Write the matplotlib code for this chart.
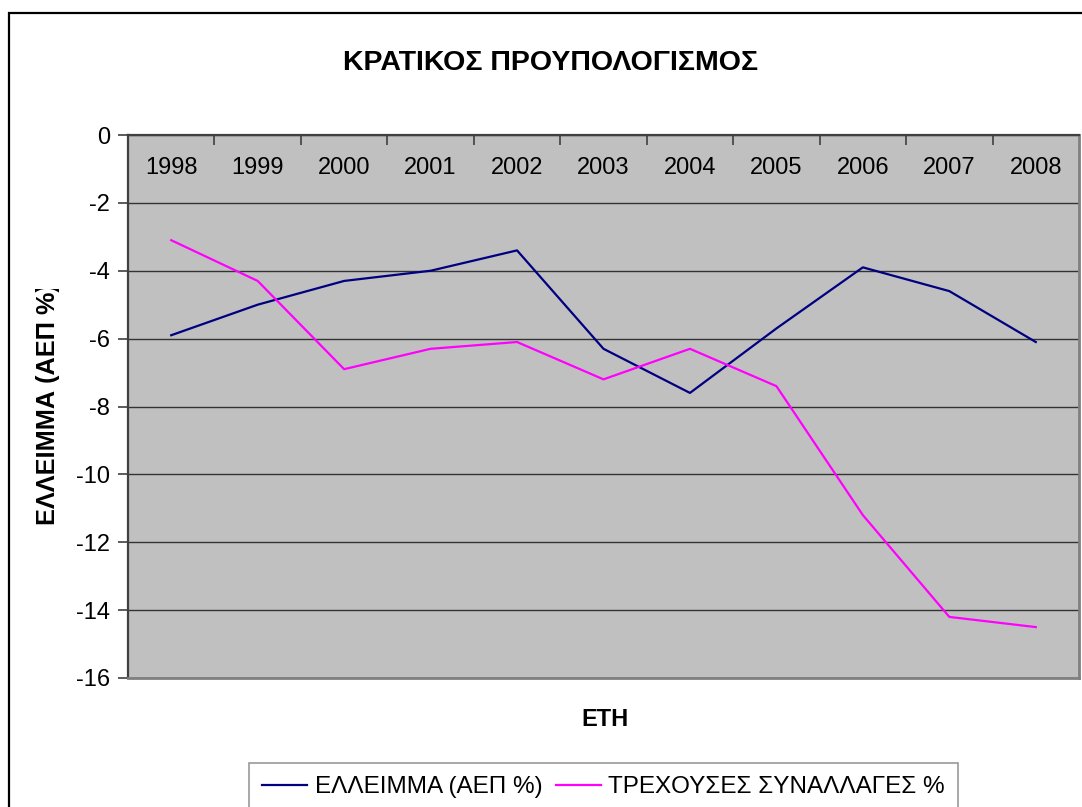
import matplotlib.pyplot as plt
from matplotlib.patches import Rectangle
from matplotlib.transforms import Bbox

plt.rcParams['font.family'] = ['Liberation Sans', 'DejaVu Sans']

years = ['1998', '1999', '2000', '2001', '2002', '2003',
         '2004', '2005', '2006', '2007', '2008']
deficit = [-5.9, -5.0, -4.3, -4.0, -3.4, -6.3, -7.6, -5.7, -3.9, -4.6, -6.1]
current_account = [-3.1, -4.3, -6.9, -6.3, -6.1, -7.2, -6.3, -7.4, -11.2, -14.2, -14.5]
yticks = [0, -2, -4, -6, -8, -10, -12, -14, -16]

W, H = 1082, 807
fig = plt.figure(figsize=(W / 100, H / 100), dpi=100)
ax = fig.add_axes([128 / W, 1 - 678 / H, (1079 - 128) / W, (678 - 135) / H])
ax.set_facecolor('#C0C0C0')

x = list(range(len(years)))
l1, = ax.plot(x, deficit, color='#000080', lw=1.6, label='ΕΛΛΕΙΜΜΑ (ΑΕΠ %)')
l2, = ax.plot(x, current_account, color='#FF00FF', lw=1.6, label='ΤΡΕΧΟΥΣΕΣ ΣΥΝΑΛΛΑΓΕΣ %')

ax.set_xlim(-0.5, len(years) - 0.5)
ax.set_ylim(-16, 0)
ax.set_yticks(yticks)
ax.set_yticklabels([str(v) for v in yticks], fontsize=17)
ax.yaxis.grid(True, color='#333333', lw=1)
ax.set_axisbelow(True)

# category axis sits at y=0 (top), labels inside the plot
ax.xaxis.tick_top()
ax.set_xticks(x)
ax.set_xticklabels(years, fontsize=17)
ax.set_xticks([i + 0.5 for i in x[:-1]], minor=True)
ax.tick_params(axis='x', which='major', length=0, pad=-24)
ax.tick_params(axis='x', which='minor', top=True, direction='in', length=7,
               width=1.2, color='#404040')
for lab in ax.get_xticklabels():
    lab.set_va('center')
ax.tick_params(axis='y', direction='out', length=7, width=1.2, color='#404040', pad=6)

for side in ['left', 'top']:
    ax.spines[side].set_color('#404040')
    ax.spines[side].set_linewidth(1.6)
for side in ['right', 'bottom']:
    ax.spines[side].set_color('#808080')
    ax.spines[side].set_linewidth(2)

fig.text(551 / W, 1 - 63 / H, 'ΚΡΑΤΙΚΟΣ ΠΡΟΥΠΟΛΟΓΙΣΜΟΣ', fontsize=20.5,
         fontweight='bold', ha='center', va='center')
fig.text(605 / W, 1 - 719 / H, 'ΕΤΗ', fontsize=17, fontweight='bold',
         ha='center', va='center')
yl = fig.text(48 / W, 1 - 404.5 / H, 'ΕΛΛΕΙΜΜΑ (ΑΕΠ %)', fontsize=18.2,
              fontweight='bold', rotation=90, ha='center', va='center')
yl.set_clip_box(Bbox([[0, 0], [W, H - 289]]))
yl.set_clip_on(True)

# outer chart frame (cut off at right and bottom)
fig.add_artist(Rectangle((9 / W, -0.1), 1.2, 1.1 - 13 / H, transform=fig.transFigure,
                         fill=False, edgecolor='black', lw=1.6))

leg = fig.legend(handles=[l1, l2], loc='upper left', ncol=2,
                 bbox_to_anchor=(249 / W, 1 - 763 / H), fontsize=17.5,
                 frameon=True, fancybox=False, edgecolor='#808080',
                 handlelength=1.85, handletextpad=0.3, columnspacing=0.55,
                 borderpad=0.55, borderaxespad=0)
leg.get_frame().set_linewidth(1.2)

fig.savefig('out.png', dpi=100)
